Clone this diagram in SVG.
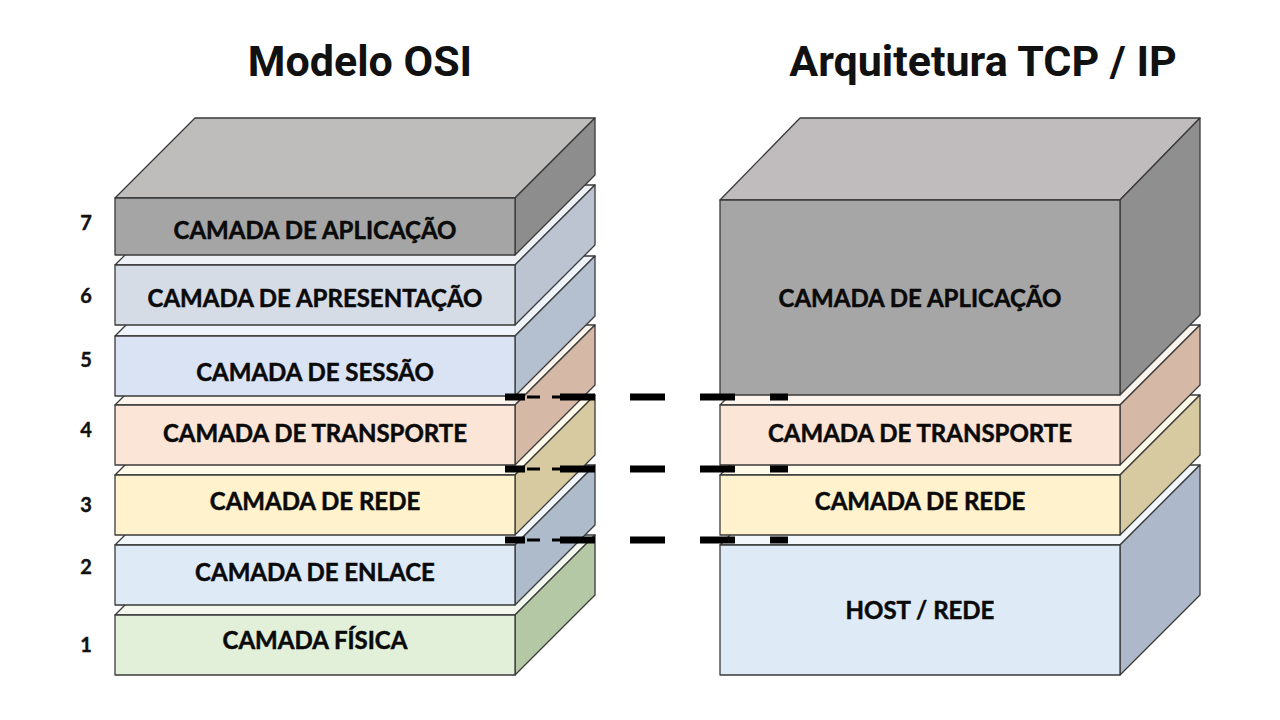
<svg xmlns="http://www.w3.org/2000/svg" width="1280" height="720" viewBox="0 0 1280 720">
<style>
.ttl{font-family:Roboto,"Liberation Sans",sans-serif;font-weight:700;font-size:43px;fill:#111;text-anchor:middle}
.lbl{font-family:Lato,"Liberation Sans",sans-serif;font-weight:700;font-size:24px;fill:#0a0a0a;stroke:#0a0a0a;stroke-width:0.5;text-anchor:middle}
.num{font-family:Lato,"Liberation Sans",sans-serif;font-weight:700;font-size:20px;fill:#111;stroke:#111;stroke-width:0.4;text-anchor:middle}
.f{stroke:#3a3a3a;stroke-width:1.3;stroke-linejoin:round}
.dash{stroke:#000;stroke-width:7;fill:none}
.thin{stroke:#000;stroke-width:3;fill:none}
</style>
<rect width="1280" height="720" fill="#fff"/>
<text class="ttl" x="360" y="76">Modelo OSI</text>
<text class="ttl" x="983" y="76">Arquitetura TCP / IP</text>

<g id="osi-1">
<polygon class="f" points="115,615 195,535 595,535 515,615" fill="#f3f8ef"/>
<polygon class="f" points="515,615 595,535 595,595 515,675" fill="#b5c8a6"/>
<rect class="f" x="115" y="615" width="400" height="60" fill="#e2f0d9"/>
<text class="lbl" x="315" y="649">CAMADA FÍSICA</text>
<text class="num" x="86" y="652">1</text>
</g>
<g id="osi-2">
<polygon class="f" points="115,545 195,465 595,465 515,545" fill="#f2f7fc"/>
<polygon class="f" points="515,545 595,465 595,525 515,605" fill="#aebbcb"/>
<rect class="f" x="115" y="545" width="400" height="60" fill="#deebf7"/>
<text class="lbl" x="315" y="581">CAMADA DE ENLACE</text>
<text class="num" x="86" y="574">2</text>
</g>
<g id="osi-3">
<polygon class="f" points="115,475 195,395 595,395 515,475" fill="#fffaea"/>
<polygon class="f" points="515,475 595,395 595,455 515,535" fill="#d8caa0"/>
<rect class="f" x="115" y="475" width="400" height="60" fill="#fff2cc"/>
<text class="lbl" x="315" y="510">CAMADA DE REDE</text>
<text class="num" x="86" y="512">3</text>
</g>
<g id="osi-4">
<polygon class="f" points="115,405 195,325 595,325 515,405" fill="#fdf4ee"/>
<polygon class="f" points="515,405 595,325 595,385 515,465" fill="#d6b8a6"/>
<rect class="f" x="115" y="405" width="400" height="60" fill="#fbe5d6"/>
<text class="lbl" x="315" y="442">CAMADA DE TRANSPORTE</text>
<text class="num" x="86" y="437">4</text>
</g>
<g id="osi-5">
<polygon class="f" points="115,336 195,256 595,256 515,336" fill="#eff3fa"/>
<polygon class="f" points="515,336 595,256 595,316 515,396" fill="#b4bfd0"/>
<rect class="f" x="115" y="336" width="400" height="60" fill="#dae3f3"/>
<text class="lbl" x="315" y="381">CAMADA DE SESSÃO</text>
<text class="num" x="86" y="367">5</text>
</g>
<g id="osi-6">
<polygon class="f" points="115,265 195,185 595,185 515,265" fill="#eef1f5"/>
<polygon class="f" points="515,265 595,185 595,245 515,325" fill="#bcc4d1"/>
<rect class="f" x="115" y="265" width="400" height="60" fill="#d6dce5"/>
<text class="lbl" x="315" y="307">CAMADA DE APRESENTAÇÃO</text>
<text class="num" x="86" y="303">6</text>
</g>
<g id="osi-7">
<polygon class="f" points="115,198 195,118 595,118 515,198" fill="#bfbcbc"/>
<polygon class="f" points="515,198 595,118 595,175 515,255" fill="#8d8d8d"/>
<rect class="f" x="115" y="198" width="400" height="57" fill="#a5a5a5"/>
<text class="lbl" x="315" y="239">CAMADA DE APLICAÇÃO</text>
<text class="num" x="86" y="230">7</text>
</g>

<g id="tcp-host">
<polygon class="f" points="720,545 800,465 1200,465 1120,545" fill="#f2f7fc"/>
<polygon class="f" points="1120,545 1200,465 1200,595 1120,675" fill="#adb9ca"/>
<rect class="f" x="720" y="545" width="400" height="130" fill="#deebf7"/>
<text class="lbl" x="920" y="619">HOST / REDE</text>
</g>
<g id="tcp-rede">
<polygon class="f" points="720,475 800,395 1200,395 1120,475" fill="#fffaea"/>
<polygon class="f" points="1120,475 1200,395 1200,455 1120,535" fill="#d8caa0"/>
<rect class="f" x="720" y="475" width="400" height="60" fill="#fff2cc"/>
<text class="lbl" x="920" y="510">CAMADA DE REDE</text>
</g>
<g id="tcp-transporte">
<polygon class="f" points="720,405 800,325 1200,325 1120,405" fill="#fdf4ee"/>
<polygon class="f" points="1120,405 1200,325 1200,385 1120,465" fill="#d6b8a6"/>
<rect class="f" x="720" y="405" width="400" height="60" fill="#fbe5d6"/>
<text class="lbl" x="920" y="442">CAMADA DE TRANSPORTE</text>
</g>
<g id="tcp-aplicacao">
<polygon class="f" points="720,200 800,118 1200,118 1120,200" fill="#c0bcbd"/>
<polygon class="f" points="1120,200 1200,118 1200,315 1120,395" fill="#8f8f8f"/>
<rect class="f" x="720" y="200" width="400" height="195" fill="#a6a6a6"/>
<text class="lbl" x="920" y="307">CAMADA DE APLICAÇÃO</text>
</g>

<g id="connectors">
<path class="dash" d="M505,397 H788 M505,469 H788 M505,540 H788" stroke-dasharray="20 35 35 35 35 35 35 35 18 200"/>
<path class="thin" d="M527,397 H560 M527,469 H560 M527,540 H560" stroke-dasharray="13 12 8 100"/>
</g>
</svg>
